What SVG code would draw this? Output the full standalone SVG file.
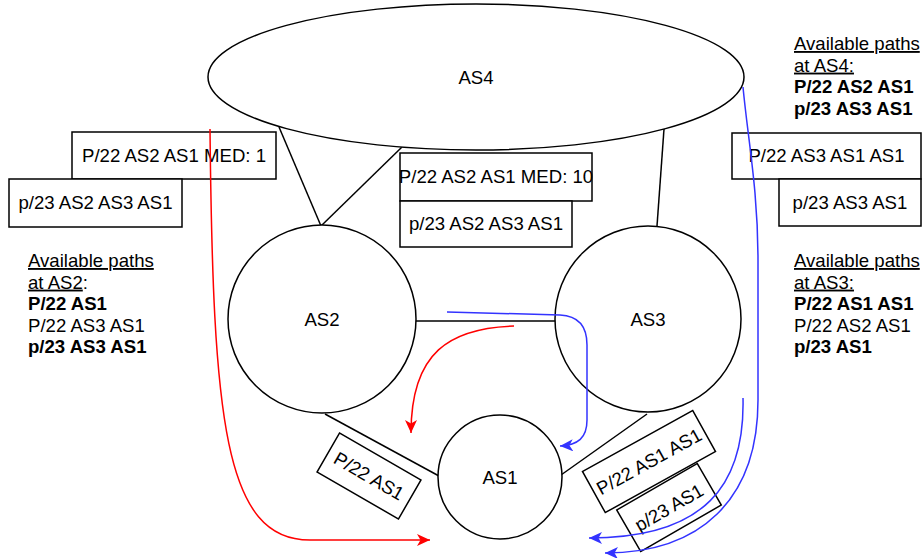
<svg xmlns="http://www.w3.org/2000/svg" width="923" height="558" viewBox="0 0 923 558">
<style>
.n{fill:#fff;stroke:#000;stroke-width:1.5}
.l{fill:none;stroke:#000;stroke-width:1.5}
.t{font-family:"Liberation Sans",Arial,Helvetica,sans-serif;font-size:18.6px;fill:#000}
.c{text-anchor:middle}
.b{font-weight:bold}
.u{text-decoration:underline}
.red{fill:none;stroke:#ff0000;stroke-width:1.5}
.blue{fill:none;stroke:#3333ff;stroke-width:1.5}
</style>
<defs>
<marker id="ar" viewBox="0 0 14 12" refX="13" refY="6" markerWidth="14" markerHeight="12" markerUnits="userSpaceOnUse" orient="auto"><path d="M0,0 L13,6 L0,12 L3.5,6 Z" fill="#ff0000"/></marker>
<marker id="ab" viewBox="0 0 14 12" refX="13" refY="6" markerWidth="14" markerHeight="12" markerUnits="userSpaceOnUse" orient="auto"><path d="M0,0 L13,6 L0,12 L3.5,6 Z" fill="#3333ff"/></marker>
</defs>

<g id="links">
<line class="l" x1="279" y1="127" x2="321" y2="226"/>
<line class="l" x1="402" y1="147" x2="321" y2="226"/>
<line class="l" x1="664" y1="129" x2="657" y2="226"/>
<line class="l" x1="416" y1="321" x2="556" y2="321"/>
<line class="l" x1="325" y1="414" x2="439" y2="476"/>
<line class="l" x1="647" y1="414" x2="561" y2="475"/>
</g>

<g id="node-as4"><ellipse class="n" cx="476" cy="77" rx="268" ry="73"/><text class="t c" x="476" y="84">AS4</text></g>
<g id="node-as2"><circle class="n" cx="322" cy="319" r="94"/><text class="t c" x="322" y="326">AS2</text></g>
<g id="node-as3"><circle class="n" cx="648" cy="319" r="93"/><text class="t c" x="648" y="326">AS3</text></g>
<g id="node-as1"><circle class="n" cx="500" cy="477" r="62"/><text class="t c" x="500" y="484">AS1</text></g>

<g id="box-as4-as2-a"><rect class="n" x="72" y="132" width="204" height="47"/><text class="t c" x="174" y="162">P/22 AS2 AS1 MED: 1</text></g>
<g id="box-as4-as2-b"><rect class="n" x="9" y="179" width="173" height="48"/><text class="t c" x="95.5" y="209">p/23 AS2 AS3 AS1</text></g>
<g id="box-as2-as4-a"><rect class="n" x="400" y="153" width="192" height="48"/><text class="t c" x="496" y="183">P/22 AS2 AS1 MED: 10</text></g>
<g id="box-as2-as4-b"><rect class="n" x="400" y="201" width="172" height="46"/><text class="t c" x="486" y="230">p/23 AS2 AS3 AS1</text></g>
<g id="box-as3-as4-a"><rect class="n" x="732" y="133" width="189" height="46"/><text class="t c" x="826.5" y="162">P/22 AS3 AS1 AS1</text></g>
<g id="box-as3-as4-b"><rect class="n" x="779" y="179" width="142" height="47"/><text class="t c" x="850" y="209">p/23 AS3 AS1</text></g>

<g id="box-as1-as2" transform="translate(369,476) rotate(30)"><rect class="n" x="-47" y="-22.5" width="94" height="45"/><text class="t c" x="0" y="6.5">P/22 AS1</text></g>
<g id="box-as1-as3-a" transform="translate(649,461.5) rotate(-29)"><rect class="n" x="-63" y="-23.5" width="126" height="47"/><text class="t c" x="0" y="6.5">P/22 AS1 AS1</text></g>
<g id="box-as1-as3-b" transform="translate(669,507.5) rotate(-30)"><rect class="n" x="-46.5" y="-24" width="93" height="48"/><text class="t c" x="0" y="6.5">p/23 AS1</text></g>

<g id="connectors">
<path class="red" d="M210,129 C213,420 224,540 310,540 L430,540" marker-end="url(#ar)"/>
<path class="red" d="M514,326 C450,328 411,352 411,433" marker-end="url(#ar)"/>
<path class="blue" d="M447,312 L560,315 C582,316 587,330 587,345 L587,420 C587,438 578,445 560,446" marker-end="url(#ab)"/>
<path class="blue" d="M743,87 C748,140 758,190 758,260 L758,400 C758,500 700,553 605,553" marker-end="url(#ab)"/>
<path class="blue" d="M743,398 C745,485 705,538 589,538" marker-end="url(#ab)"/>
</g>

<g id="label-as2">
<text class="t" x="28" y="267"><tspan class="u">Available paths</tspan></text>
<text class="t" x="28" y="288.6"><tspan class="u">at AS2</tspan>:</text>
<text class="t b" x="28" y="310.2">P/22 AS1</text>
<text class="t" x="28" y="331.8">P/22 AS3 AS1</text>
<text class="t b" x="28" y="353.4">p/23 AS3 AS1</text>
</g>
<g id="label-as3">
<text class="t" x="794" y="267"><tspan class="u">Available paths</tspan></text>
<text class="t" x="794" y="288.6"><tspan class="u">at AS3:</tspan></text>
<text class="t b" x="794" y="310.2">P/22 AS1 AS1</text>
<text class="t" x="794" y="331.8">P/22 AS2 AS1</text>
<text class="t b" x="794" y="353.4">p/23 AS1</text>
</g>
<g id="label-as4">
<text class="t" x="794" y="50"><tspan class="u">Available paths</tspan></text>
<text class="t" x="794" y="71.6"><tspan class="u">at AS4:</tspan></text>
<text class="t b" x="794" y="93.2">P/22 AS2 AS1</text>
<text class="t b" x="794" y="114.8">p/23 AS3 AS1</text>
</g>
</svg>
